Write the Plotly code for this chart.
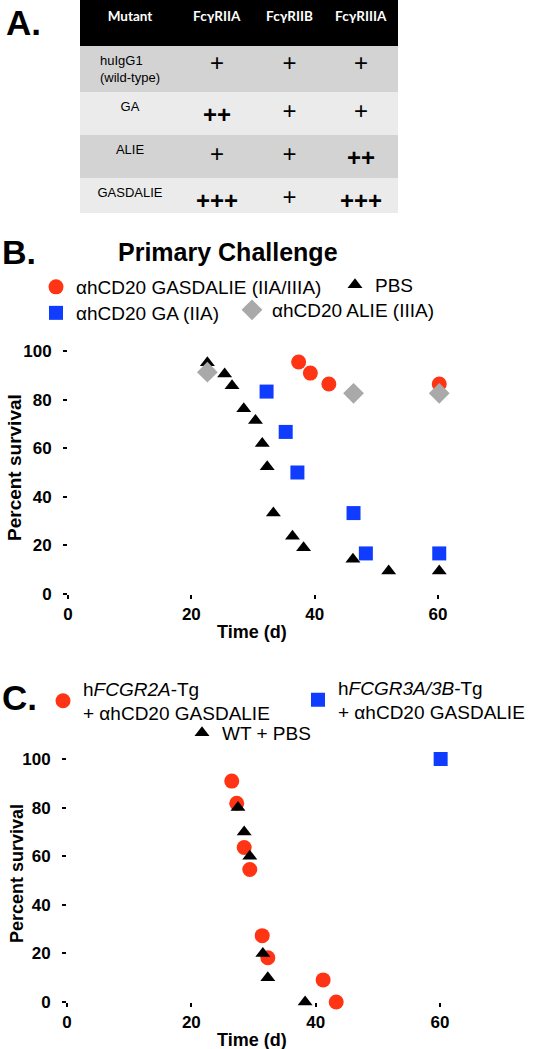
import plotly.graph_objects as go

W, H = 537, 1049
FONT = "Liberation Sans, Arial, sans-serif"

# ---------------- Panel A: table data ----------------
table_header = ["Mutant", "FcγRIIA", "FcγRIIB", "FcγRIIIA"]
mutants = ["huIgG1<br>(wild-type)", "GA", "ALIE", "GASDALIE"]
fcgr2a = ["+", "<b>++</b>", "+", "<b>+++</b>"]
fcgr2b = ["+", "+", "+", "+"]
fcgr3a = ["+", "+", "<b>++</b>", "<b>+++</b>"]
row_colors = ["#d3d3d3", "#ebebeb", "#d3d3d3", "#ebebeb"]

# ---------------- Panel B: primary challenge ----------------
gasdalie_b_x = [37.4, 39.3, 42.3, 60.2]
gasdalie_b_y = [95.5, 90.9, 86.4, 86.4]
pbs_b_x = [22.6, 25.4, 26.6, 28.5, 30.4, 31.5, 32.3, 33.3, 36.4, 38.2, 46.2, 52.0, 60.2]
pbs_b_y = [95.2, 90.5, 85.7, 76.2, 71.4, 61.9, 52.4, 33.3, 23.8, 19.0, 14.3, 9.5, 9.5]
ga_b_x = [32.2, 35.3, 37.2, 46.3, 48.3, 60.2]
ga_b_y = [83.3, 66.7, 50.0, 33.3, 16.7, 16.7]
alie_b_x = [22.6, 46.3, 60.2]
alie_b_y = [91.3, 82.6, 82.6]

# ---------------- Panel C ----------------
fcgr2a_c_x = [26.5, 27.3, 28.5, 29.4, 31.4, 32.3, 41.2, 43.3]
fcgr2a_c_y = [90.9, 81.8, 63.6, 54.5, 27.3, 18.2, 9.1, 0.0]
fcgr3a_c_x = [60.1]
fcgr3a_c_y = [100.0]
wt_c_x = [27.5, 28.5, 29.4, 31.5, 32.3, 38.3]
wt_c_y = [80.0, 70.0, 60.0, 20.0, 10.0, 0.0]

x_ticks = [0, 20, 40, 60]
y_ticks = [0, 20, 40, 60, 80, 100]

RED = "#ff3414"
BLUE = "#0f3cff"
GRAY = "#a9a9a9"
BLACK = "#000000"


def px(x):
    return x / W


def py(y):
    return 1 - y / H


fig = go.Figure()

# table
fig.add_trace(go.Table(
    domain=dict(x=[px(80), px(397)], y=[py(213), 1]),
    columnwidth=[100, 74, 71, 72],
    header=dict(
        values=["<b>%s</b>" % h for h in table_header],
        fill_color="black", line_color="black", height=45, align="center",
        font=dict(family="Lato, Open Sans, sans-serif", size=13.5, color="white"),
    ),
    cells=dict(
        values=[mutants, fcgr2a, fcgr2b, fcgr3a],
        fill_color=[row_colors] * 4,
        line_color=[row_colors] * 4,
        height=41, align="center",
        font=dict(family=FONT, size=[13, 24, 24, 24], color="black"),
    ),
))


def add_series(x, y, name, symbol, color, size, xa, ya, legend):
    fig.add_trace(go.Scatter(
        x=x, y=y, mode="markers", name=name, xaxis=xa, yaxis=ya,
        marker=dict(symbol=symbol, color=color, size=size, line=dict(width=0)),
        cliponaxis=False, legend=legend, showlegend=True,
    ))


add_series(gasdalie_b_x, gasdalie_b_y, "αhCD20 GASDALIE (IIA/IIIA)", "circle", RED, 15, "x", "y", "legend")
add_series(pbs_b_x, pbs_b_y, "PBS", "triangle-up", BLACK, 13, "x", "y", "legend2")
add_series(ga_b_x, ga_b_y, "αhCD20 GA (IIA)", "square", BLUE, 14, "x", "y", "legend3")
add_series(alie_b_x, alie_b_y, "αhCD20 ALIE (IIIA)", "diamond", GRAY, 16, "x", "y", "legend4")

add_series(fcgr2a_c_x, fcgr2a_c_y, "h<i>FCGR2A</i>-Tg<br>+ αhCD20 GASDALIE", "circle", RED, 15, "x2", "y2", "legend5")
add_series(fcgr3a_c_x, fcgr3a_c_y, "h<i>FCGR3A/3B</i>-Tg<br>+ αhCD20 GASDALIE", "square", BLUE, 14, "x2", "y2", "legend6")
add_series(wt_c_x, wt_c_y, "WT + PBS", "triangle-up", BLACK, 13, "x2", "y2", "legend7")

tickfont = dict(family=FONT, size=17, color="black", weight="bold")
axis_common = dict(showgrid=False, zeroline=False, showline=False, ticks="outside",
                   ticklen=4, tickwidth=2, tickcolor="black", tickfont=tickfont,
                   fixedrange=True)

# axis geometry (pixels)
bx0, bx_scale = 68, 6.167
by0, by_scale = 594, 2.43
cx0, cx_scale = 67, 6.217
cy0, cy_scale = 1002, 2.43
XMAX, YMAX = 75, 104

legend_font = dict(family=FONT, size=19, color="black")


def leg(sym_x, sym_y):
    return dict(x=px(sym_x - 20), y=py(sym_y), xanchor="left", yanchor="middle",
                bgcolor="rgba(0,0,0,0)", borderwidth=0, font=legend_font,
                itemclick=False, itemdoubleclick=False, valign="middle")


fig.update_layout(
    width=W, height=H, margin=dict(l=0, r=0, t=0, b=0),
    paper_bgcolor="white", plot_bgcolor="white", template="none",
    font=dict(family=FONT, color="black"),
    xaxis=dict(domain=[px(bx0), px(bx0 + XMAX * bx_scale)], range=[0, XMAX],
               tickvals=x_ticks, anchor="y", ticklabelstandoff=1, **axis_common),
    yaxis=dict(domain=[py(by0), py(by0 - YMAX * by_scale)], range=[0, YMAX],
               tickvals=y_ticks, anchor="x", ticklabelstandoff=8, **axis_common),
    xaxis2=dict(domain=[px(cx0), px(cx0 + XMAX * cx_scale)], range=[0, XMAX],
                tickvals=x_ticks, anchor="y2", ticklabelstandoff=1, **axis_common),
    yaxis2=dict(domain=[py(cy0), py(cy0 - YMAX * cy_scale)], range=[0, YMAX],
                tickvals=y_ticks, anchor="x2", ticklabelstandoff=8, **axis_common),
    legend=leg(56, 287),
    legend2=leg(355, 285),
    legend3=leg(56, 313),
    legend4=leg(252, 310),
    legend5=leg(63, 701),
    legend6=leg(318, 700),
    legend7=leg(202, 733),
)

ann = []


def text(x, y, s, size, bold=False, anchor="center", angle=0):
    ann.append(dict(x=px(x), y=py(y), xref="paper", yref="paper", text=s,
                    showarrow=False, xanchor=anchor, yanchor="middle", textangle=angle,
                    font=dict(family=FONT, size=size, color="black",
                              weight="bold" if bold else "normal")))


text(4, 22, "A.", 35, bold=True, anchor="left")
text(0, 252, "B.", 34, bold=True, anchor="left")
text(0, 697, "C.", 35, bold=True, anchor="left")
text(228, 252, "Primary Challenge", 25, bold=True)
text(15, 468, "Percent survival", 19, bold=True, angle=-90)
text(252, 632, "Time (d)", 18, bold=True)
text(17, 874, "Percent survival", 18, bold=True, angle=-90)
text(252, 1040, "Time (d)", 18, bold=True)

fig.update_layout(annotations=ann)

fig.write_html("out.html", config={"displayModeBar": False},
               post_script="document.body.style.margin='0px';")
